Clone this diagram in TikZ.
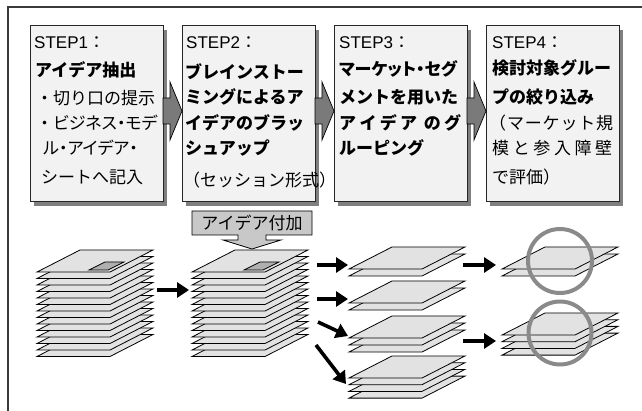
\documentclass[tikz,border=0pt]{standalone}
\usepackage{fontspec}
\usetikzlibrary{arrows.meta}
\setmainfont{Noto Sans CJK JP}
\newfontfamily\jpprop{Noto Sans CJK JP}[RawFeature=+palt]
\newfontfamily\latn{Liberation Sans}
\definecolor{framecol}{HTML}{3A3A3A}
\definecolor{boxfill}{HTML}{F2F2F2}
\definecolor{shadowgray}{HTML}{7F7F7F}
\definecolor{arrowgray}{HTML}{7A7A7A}
\definecolor{labelfill}{HTML}{C8C8C8}
\definecolor{sheetfill}{HTML}{E2E2E2}
\definecolor{markfill}{HTML}{AFAFAF}
\definecolor{ringgray}{HTML}{8A8A8A}
\newcommand\spreadline[2]{\makebox[#1][s]{#2}}
% a stack of sheets: x of front-left corner, y of top sheet's front edge, count, spacing
\newcommand\sheetstack[4]{%
  \foreach \k in {1,...,#3}{%
    \pgfmathsetmacro\yy{#2+(#3-\k)*#4}%
    \draw[sheet] (#1,\yy) -- ++(73,0) -- ++(43,-22) -- ++(-73,0) -- cycle;
  }%
}
\begin{document}
\begin{tikzpicture}[x=1pt,y=-1pt,
  stepframe/.style={draw=black!85, line width=0.9pt, fill=boxfill, inner sep=0pt, minimum width=133, minimum height=176, anchor=north west},
  shadowbox/.style={fill=shadowgray, inner sep=0pt, minimum width=133, minimum height=176, anchor=north west},
  blockarrow/.style={draw=black, line width=0.7pt, fill=arrowgray, line join=miter},
  steptxt/.style={anchor=base west, inner sep=0pt, font=\fontsize{17}{20}\selectfont},
  sheet/.style={draw=black, line width=0.8pt, fill=sheetfill, line join=miter},
  flowarrow/.style={line width=3.6pt, -{Triangle[length=12pt,width=15pt]}},
  ring/.style={draw=ringgray, line width=4pt}
]
\useasboundingbox (0,0) rectangle (642,411);

% outer frame (top and left edges)
\draw[framecol, line width=1.4pt] (8,411) -- (8,7) -- (642,7);

% step boxes with shadows
\node[shadowbox] (sh1) at (34,30) {};
\node[shadowbox] (sh2) at (186,30) {};
\node[shadowbox] (sh3) at (338,30) {};
\node[shadowbox] (sh4) at (490,30) {};
\node[stepframe] (s1) at (30,25) {};
\node[stepframe] (s2) at (182,25) {};
\node[stepframe] (s3) at (334,25) {};
\node[stepframe] (s4) at (486,25) {};

% block arrows between the steps
\draw[blockarrow] (163,98) -- (170,98) -- (170,82) -- (182,111) -- (170,140) -- (170,124) -- (163,124) -- cycle;
\draw[blockarrow] (315,98) -- (322,98) -- (322,82) -- (334,111) -- (322,140) -- (322,124) -- (315,124) -- cycle;
\draw[blockarrow] (467,98) -- (474,98) -- (474,82) -- (486,111) -- (474,140) -- (474,124) -- (467,124) -- cycle;

% STEP1
\node[steptxt] (t11) at (34,49) {{\latn STEP1}：};
\node[steptxt] (t12) at (35,76.5) {\bfseries アイデア抽出};
\node[steptxt] (t13) at (36,104.5) {・切り口の提示};
\node[steptxt] (t14) at (36,129.5) {・{\jpprop ビジネス・モデ}};
\node[steptxt] (t15) at (43,154.5) {\jpprop ル・アイデア・};
\node[steptxt] (t16) at (41,183.5) {シートへ記入};

% STEP2
\node[steptxt] (t21) at (186,49) {{\latn STEP2}：};
\node[steptxt] (t22) at (185,78.5) {\bfseries ブレインストー};
\node[steptxt] (t23) at (185,103.5) {\bfseries ミングによるア};
\node[steptxt] (t24) at (185,129.5) {\bfseries イデアのブラッ};
\node[steptxt] (t25) at (185,154.5) {\bfseries シュアップ};
\node[steptxt] (t26) at (183,186.5) {\spreadline{131pt}{（\hfill セッション形式\hfill ）}};

% STEP3
\node[steptxt] (t31) at (339,49) {{\latn STEP3}：};
\node[steptxt] (t32) at (339,75.5) {\bfseries\jpprop マーケット・セグ};
\node[steptxt] (t33) at (339,103.5) {\bfseries メントを用いた};
\node[steptxt] (t34) at (339,129.5) {\bfseries\spreadline{122pt}{ア\hfill イ\hfill デ\hfill ア\hfill\hfill の\hfill グ}};
\node[steptxt] (t35) at (339,154.5) {\bfseries ルーピング};

% STEP4
\node[steptxt] (t41) at (492,49) {{\latn STEP4}：};
\node[steptxt] (t42) at (492,74.5) {\bfseries 検討対象グルー};
\node[steptxt] (t43) at (492,103.5) {\bfseries プの絞り込み};
\node[steptxt] (t44) at (489,129.5) {\spreadline{124pt}{（\hfill マ\hfill ー\hfill ケ\hfill ッ\hfill ト\hfill 規}};
\node[steptxt] (t45) at (492,154.5) {\spreadline{120pt}{模\hfill と\hfill 参\hfill 入\hfill 障\hfill 壁}};
\node[steptxt] (t46) at (492,183.5) {で評価）};

% "idea added" callout with its down arrow
\draw[draw=black, line width=0.8pt, fill=labelfill, line join=miter]
  (192,211) -- (312,211) -- (312,235) -- (266,235) -- (266,240) -- (281,240)
  -- (252,249) -- (223,240) -- (238,240) -- (238,235) -- (192,235) -- cycle;
\node[inner sep=0pt, font=\fontsize{17}{20}\selectfont] (addlbl) at (252,223) {アイデア付加};

% sheet stacks
\sheetstack{37}{272}{14}{6.5}
\draw[sheet, fill=markfill] (89,270) -- ++(19,0) -- ++(16,-8) -- ++(-19,0) -- cycle;
\sheetstack{192}{272}{14}{6.5}
\draw[sheet, fill=markfill] (244,270) -- ++(19,0) -- ++(16,-8) -- ++(-19,0) -- cycle;

\sheetstack{349}{269}{2}{7}
\sheetstack{349}{303}{2}{7}
\sheetstack{349}{338}{3}{7}
\sheetstack{349}{378}{4}{6.7}

\sheetstack{502}{269}{2}{7}
\sheetstack{502}{335}{4}{6.7}

% connector end points
\coordinate (la) at (157,290);  \coordinate (mb) at (189,290);
\coordinate (m1) at (317,265);  \coordinate (ga) at (348,265);
\coordinate (m2) at (317,299);  \coordinate (gb) at (348,299);
\coordinate (m3) at (318,322);  \coordinate (gc) at (348,336);
\coordinate (m4) at (316,345);  \coordinate (gd) at (346,384);
\coordinate (a1) at (463,265);  \coordinate (ge) at (496,265);
\coordinate (c1) at (463,341);  \coordinate (gf) at (496,341);

\draw[flowarrow] (la) -- (mb);
\draw[flowarrow] (m1) -- (ga);
\draw[flowarrow] (m2) -- (gb);
\draw[flowarrow] (m3) -- (gc);
\draw[flowarrow] (m4) -- (gd);
\draw[flowarrow] (a1) -- (ge);
\draw[flowarrow] (c1) -- (gf);

% selection rings
\node[ring, circle, minimum size=64, inner sep=0pt] (r1) at (560,261) {};
\node[ring, circle, minimum size=63, inner sep=0pt] (r2) at (560,333) {};
\end{tikzpicture}
\end{document}
